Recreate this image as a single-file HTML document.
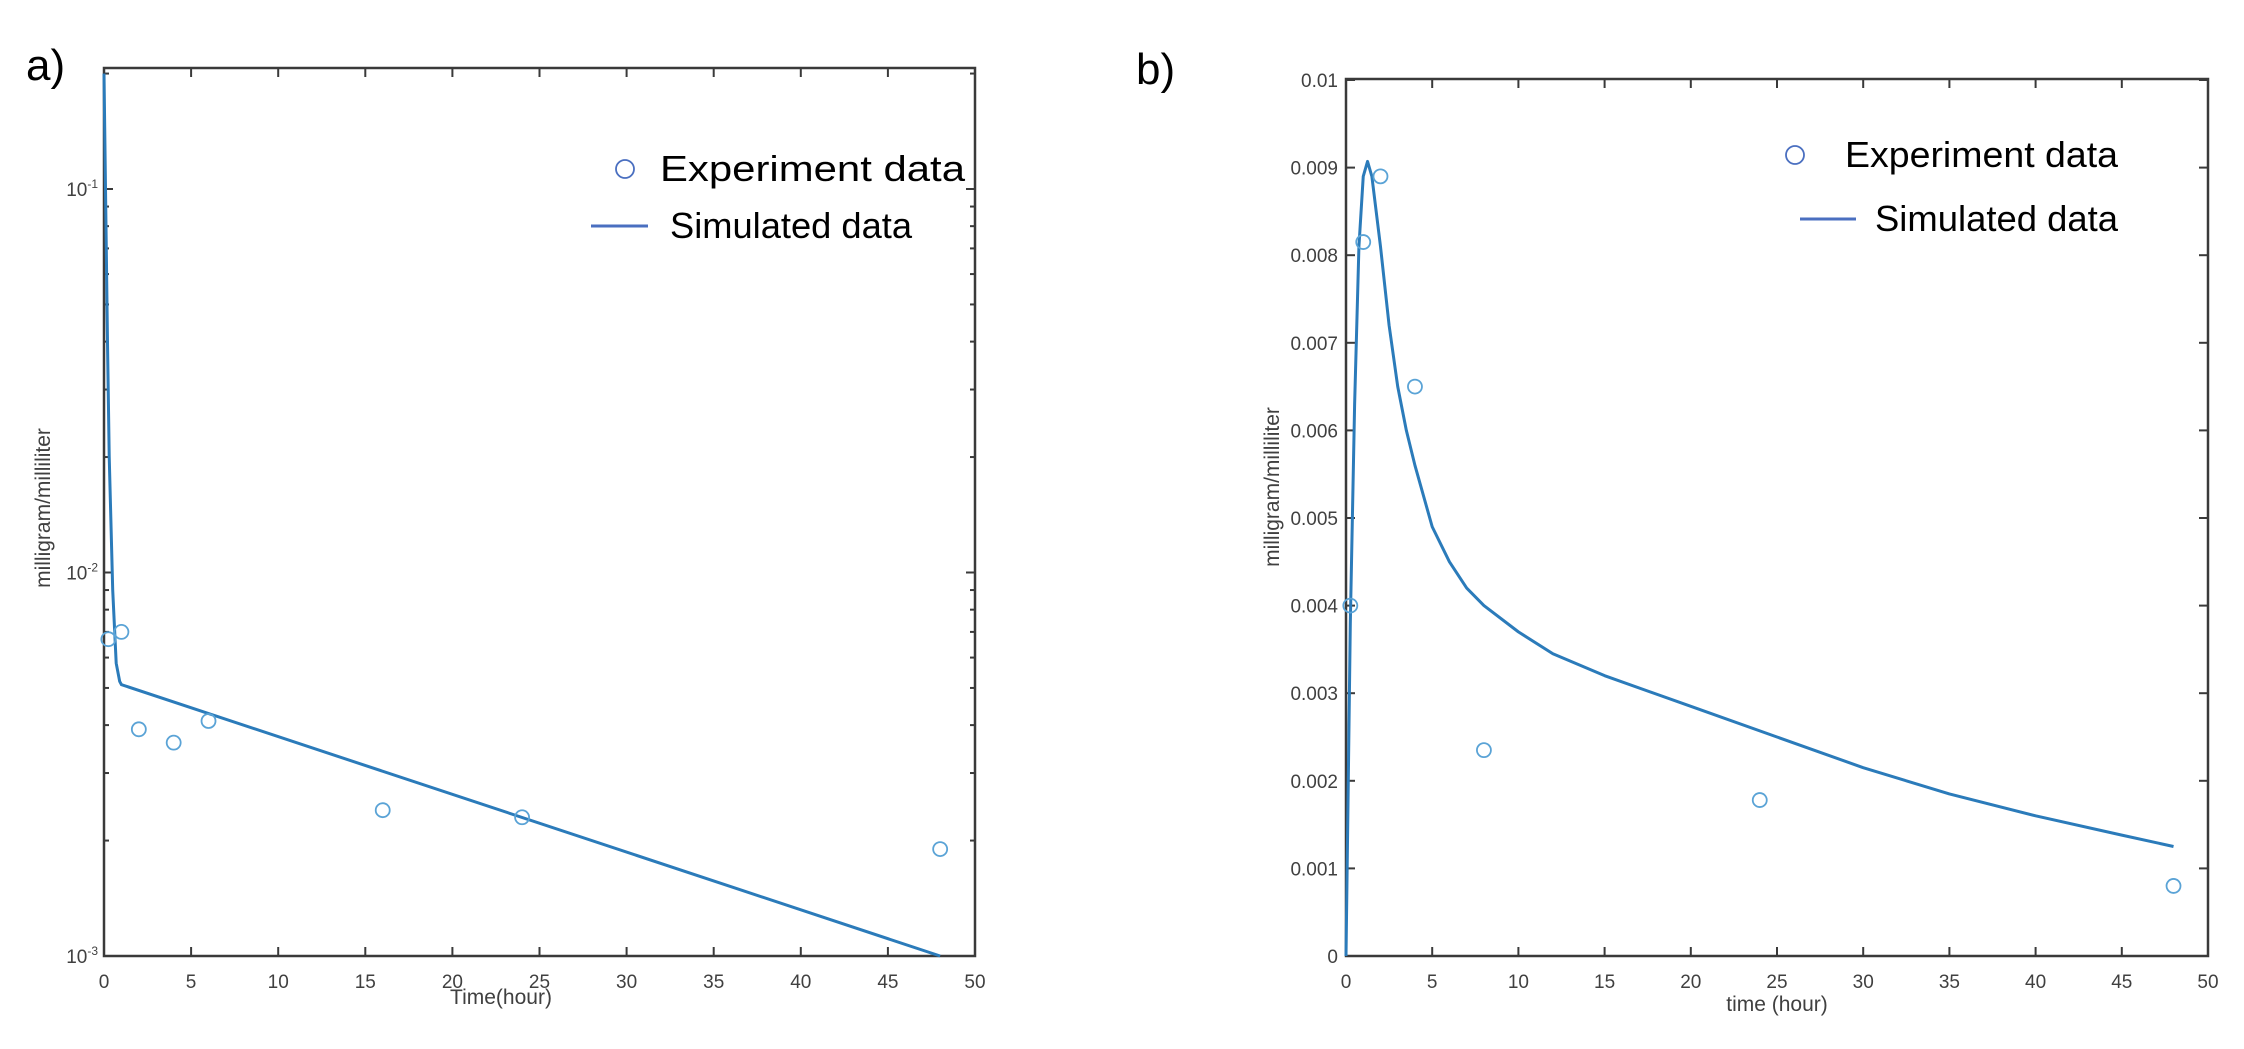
<!DOCTYPE html>
<html><head><meta charset="utf-8"><style>
body{margin:0;background:#fff;width:2244px;height:1044px;overflow:hidden}
svg text{font-family:"Liberation Sans",sans-serif}
</style></head><body>
<svg id="s" width="2244" height="1044" xmlns="http://www.w3.org/2000/svg">
<text x="26" y="80" font-size="44">a)</text>
<text x="1136" y="84" font-size="44">b)</text>
<g id="A"></g>
<g id="B"></g>
</svg>
<script>
// Chart A data (log scale)
const aExpT=[0.25,1,2,4,6,16,24,48];
const aExpY=[0.0067,0.0070,0.0039,0.0036,0.0041,0.0024,0.0023,0.0019];
const aSimT=[0,0.1,0.2,0.3,0.5,0.7,0.9,1,48];
const aSimY=[0.2,0.09,0.04,0.02,0.009,0.0058,0.0052,0.0051,0.001];
const aXTicks=[0,5,10,15,20,25,30,35,40,45,50];
const aYTicks=[0.001,0.01,0.1];
const aYTickLabels=["-3","-2","-1"];
// Chart B data (linear)
const bExpT=[0.25,1,2,4,8,24,48];
const bExpY=[0.0040,0.00815,0.0089,0.0065,0.00235,0.00178,0.0008];
const bSimT=[0,0.1,0.25,0.5,0.75,1,1.25,1.5,2,2.5,3,3.5,4,5,6,7,8,10,12,15,20,25,30,35,40,45,48];
const bSimY=[0,0.0015,0.0038,0.0063,0.0081,0.0089,0.00907,0.0089,0.0081,0.0072,0.0065,0.0060,0.0056,0.0049,0.0045,0.0042,0.0040,0.0037,0.00345,0.0032,0.00285,0.0025,0.00215,0.00185,0.0016,0.00138,0.00125];
const bXTicks=[0,5,10,15,20,25,30,35,40,45,50];
const bYTicks=[0,0.001,0.002,0.003,0.004,0.005,0.006,0.007,0.008,0.009,0.01];
const bYTickLabels=["0","0.001","0.002","0.003","0.004","0.005","0.006","0.007","0.008","0.009","0.01"];

const NS="http://www.w3.org/2000/svg";
function mk(p,tag,at){const e=document.createElementNS(NS,tag);for(const k in at)e.setAttribute(k,at[k]);p.appendChild(e);return e;}
const BLUE="#2b7bba", AX="#3a3a3a", TXT="#404040";

function axesBox(g,L,T,R,B){
  const r=mk(g,'rect',{x:L,y:T,width:R-L,height:B-T,fill:'none',stroke:AX,'stroke-width':2.5});
  
  
}
function legend(g,cx,cy,tx,tw1,ly1,ly2,lyy,tx2,tw2){
  const c=mk(g,'circle',{cx:cx,cy:cy,r:9,fill:'none',stroke:'#4a6fc0','stroke-width':1.8});
  
  
  const t=mk(g,'text',{x:tx,y:cy+12,'font-size':36,fill:'#000',textLength:tw1,lengthAdjust:'spacingAndGlyphs'});t.textContent='Experiment data';
  
  
  const l=mk(g,'line',{x1:ly1,x2:ly2,y1:lyy,y2:lyy,stroke:'#4a6fc0','stroke-width':3});
  
  
  const t2=mk(g,'text',{x:tx2,y:lyy+12,'font-size':36,fill:'#000',textLength:tw2,lengthAdjust:'spacingAndGlyphs'});t2.textContent='Simulated data';
  
  
}

// ---- Chart A ----
(function(){
  const g=document.getElementById('A');
  const L=104,R=975,T=68,B=956;
  const lmin=-3;
  const xs=t=>L+(t-0)/(50-0)*(R-L);
  const dec=383.5;
  const ys=v=>B-(Math.log10(v)-lmin)*dec;
  axesBox(g,L,T,R,B);
  aXTicks.forEach(v=>{
    const x=xs(v);
    mk(g,'line',{x1:x,x2:x,y1:B,y2:B-9,stroke:AX,'stroke-width':2});
    mk(g,'line',{x1:x,x2:x,y1:T,y2:T+9,stroke:AX,'stroke-width':2});
    const t=mk(g,'text',{x:x,y:B+32,'font-size':19,fill:TXT,'text-anchor':'middle'});t.textContent=v;
    
    
  });
  aYTicks.forEach((v,i)=>{
    const y=ys(v);
    mk(g,'line',{x1:L,x2:L+9,y1:y,y2:y,stroke:AX,'stroke-width':2});
    mk(g,'line',{x1:R,x2:R-9,y1:y,y2:y,stroke:AX,'stroke-width':2});
    const t=mk(g,'text',{x:L-6,y:y+7,'font-size':19,fill:TXT,'text-anchor':'end'});
    t.innerHTML='10<tspan dy="-8" font-size="12">'+aYTickLabels[i]+'</tspan>';
    
    
    for(let m=2;m<=9;m++){const yy=ys(v*m);if(yy<T)continue;
      mk(g,'line',{x1:L,x2:L+5,y1:yy,y2:yy,stroke:AX,'stroke-width':2});
      mk(g,'line',{x1:R,x2:R-5,y1:yy,y2:yy,stroke:AX,'stroke-width':2});}
  });
  const p=mk(g,'polyline',{points:aSimT.map((t,i)=>xs(t)+','+ys(aSimY[i])).join(' '),fill:'none',stroke:BLUE,'stroke-width':3});
  
  
  aExpT.forEach((t,i)=>{
    const c=mk(g,'circle',{cx:xs(t),cy:ys(aExpY[i]),r:7,fill:'none',stroke:'#5aa3d6','stroke-width':1.8});
    
    
  });
  const xl=mk(g,'text',{x:501,y:1004,'font-size':21,fill:TXT,'text-anchor':'middle'});xl.textContent='Time(hour)';
  
  
  const yl=mk(g,'text',{x:0,y:0,'font-size':21,fill:TXT,'text-anchor':'middle',transform:'translate(50,508) rotate(-90)'});yl.textContent='milligram/milliliter';
  
  
  legend(g,625,169,660,305,591,648,226,670,242);
})();

// ---- Chart B ----
(function(){
  const g=document.getElementById('B');
  const L=1346,R=2208,T=79,B=956;
  const xs=t=>L+t/50*(R-L);
  const ys=v=>B-v/0.001*87.6;
  axesBox(g,L,T,R,B);
  bXTicks.forEach(v=>{
    const x=xs(v);
    mk(g,'line',{x1:x,x2:x,y1:B,y2:B-9,stroke:AX,'stroke-width':2});
    mk(g,'line',{x1:x,x2:x,y1:T,y2:T+9,stroke:AX,'stroke-width':2});
    const t=mk(g,'text',{x:x,y:B+32,'font-size':19,fill:TXT,'text-anchor':'middle'});t.textContent=v;
    
    
  });
  bYTicks.forEach((v,i)=>{
    const y=ys(v);
    mk(g,'line',{x1:L,x2:L+9,y1:y,y2:y,stroke:AX,'stroke-width':2});
    mk(g,'line',{x1:R,x2:R-9,y1:y,y2:y,stroke:AX,'stroke-width':2});
    const t=mk(g,'text',{x:L-8,y:y+7,'font-size':19,fill:TXT,'text-anchor':'end'});t.textContent=bYTickLabels[i];
    
    
  });
  const p=mk(g,'polyline',{points:bSimT.map((t,i)=>xs(t)+','+ys(bSimY[i])).join(' '),fill:'none',stroke:BLUE,'stroke-width':3,'stroke-linejoin':'round'});
  
  
  bExpT.forEach((t,i)=>{
    const c=mk(g,'circle',{cx:xs(t),cy:ys(bExpY[i]),r:7,fill:'none',stroke:'#5aa3d6','stroke-width':1.8});
    
    
  });
  const xl=mk(g,'text',{x:(L+R)/2,y:1011,'font-size':21,fill:TXT,'text-anchor':'middle'});xl.textContent='time (hour)';
  
  
  const yl=mk(g,'text',{x:0,y:0,'font-size':21,fill:TXT,'text-anchor':'middle',transform:'translate(1279,487) rotate(-90)'});yl.textContent='milligram/milliliter';
  
  
  legend(g,1795,155,1845,273,1800,1856,219,1875,243);
})();
</script>
</body></html>
